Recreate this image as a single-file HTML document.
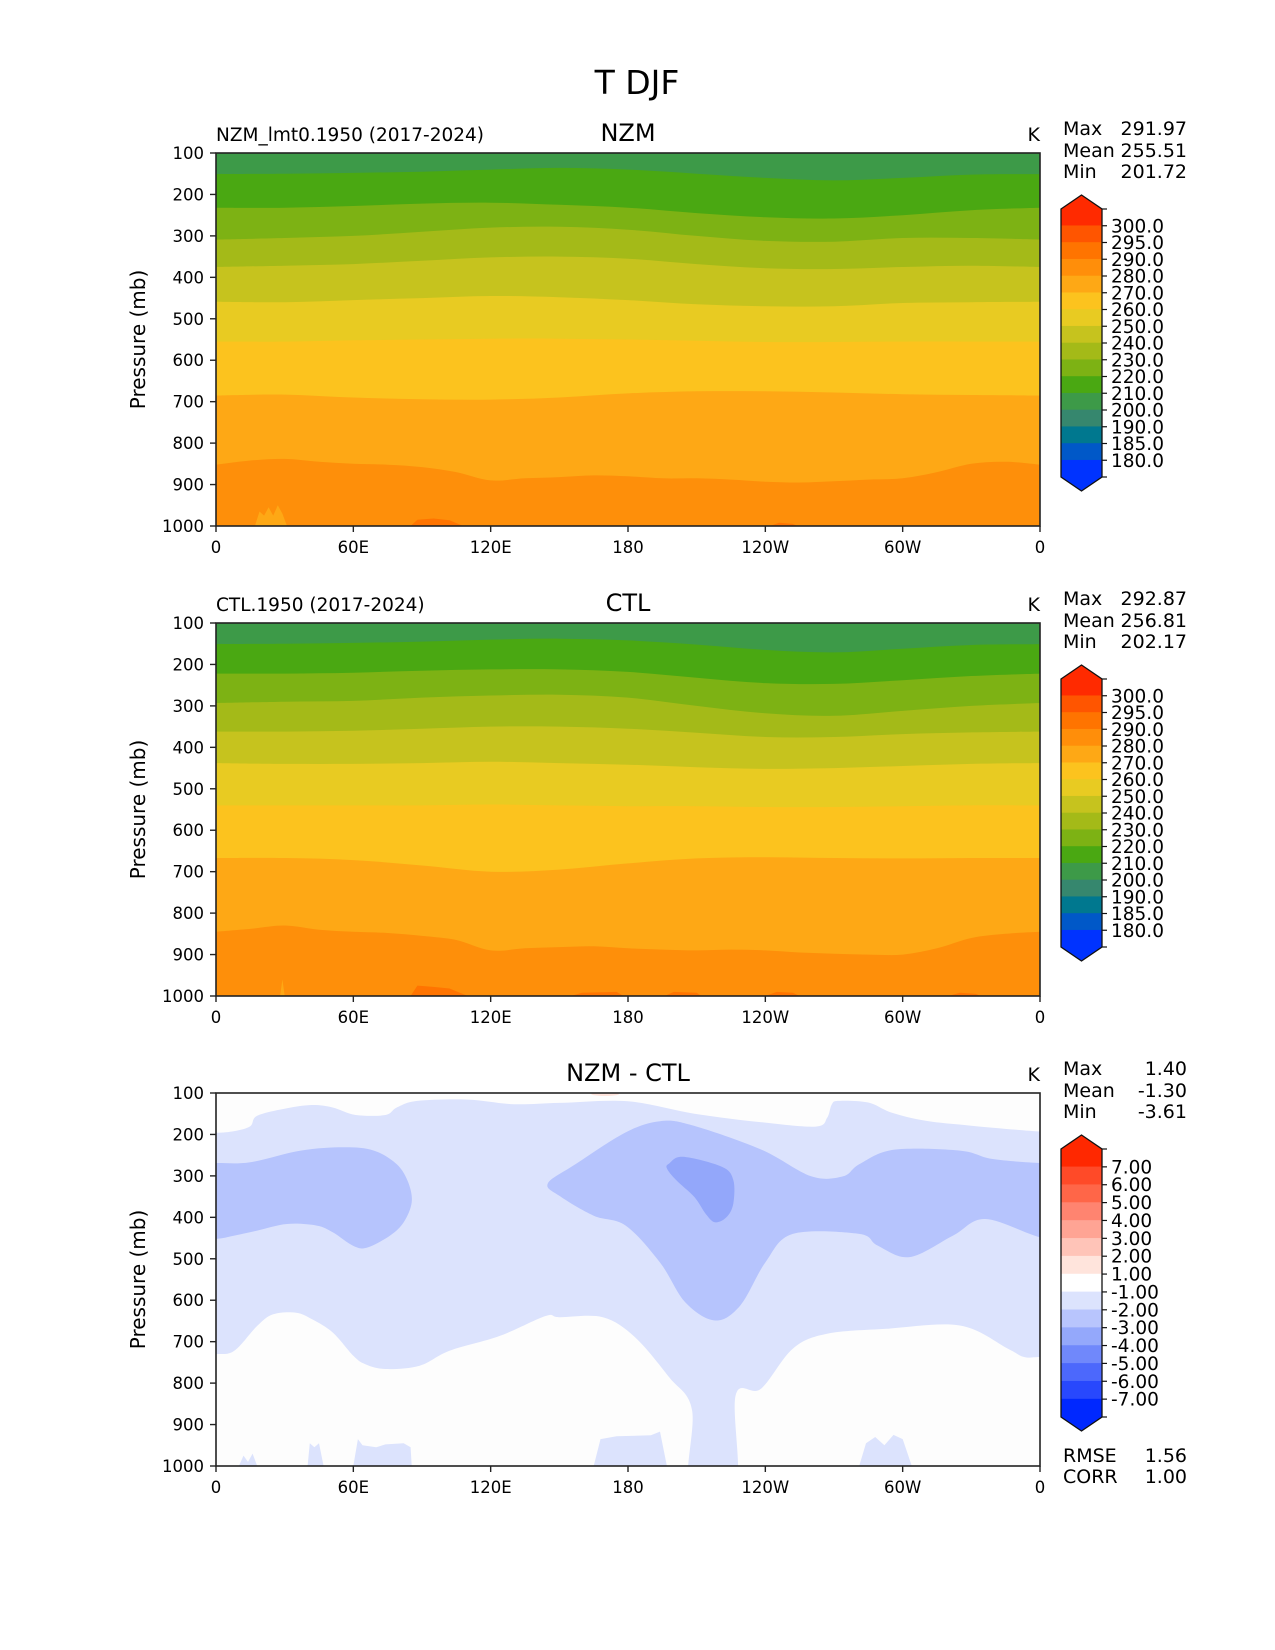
<!DOCTYPE html>
<html><head><meta charset="utf-8">
<style>
html,body{margin:0;padding:0;background:#fff;}
svg{display:block;font-family:"DejaVu Sans","Liberation Sans",sans-serif;}
</style></head>
<body>
<svg id="fig" width="1275" height="1650" viewBox="0 0 1275 1650" xmlns="http://www.w3.org/2000/svg">
<text x="637" y="94" font-size="33" text-anchor="middle">T DJF</text>
</svg>
<script>
// ---------- data ----------
const lonTicks = [0, 60, 120, 180, 240, 300, 360];
const lonTickLabels = ["0", "60E", "120E", "180", "120W", "60W", "0"];
const presTicks = [100, 200, 300, 400, 500, 600, 700, 800, 900, 1000];

const absLevels = ["300.0","295.0","290.0","280.0","270.0","260.0","250.0","240.0","230.0","220.0","210.0","200.0","190.0","185.0","180.0"];
const absColors = ["#ff2a00","#ff5500","#ff7400","#ff8e0a","#fea815","#fcc31e","#e8cb22","#c6c31e","#a4ba18","#7db214","#4aa812","#3d9a48","#36876e","#00788f","#0058c8","#0033ff"];
const diffLevels = ["7.00","6.00","5.00","4.00","3.00","2.00","1.00","-1.00","-2.00","-3.00","-4.00","-5.00","-6.00","-7.00"];
const diffColors = ["#ff2800","#ff4a28","#ff6648","#ff8470","#ffa494","#ffc4b8","#ffe4dc","#ffffff","#dce3fd","#b8c5fd","#94a8fb","#7088fb","#4c68fc","#2848fd","#0028ff"];

// boundary pressures at lon 0,30,...,360
const lon13 = [0,30,60,90,120,150,180,210,240,270,300,330,360];
const nzmB210 = [151,150,148,145,140,136,140,150,160,166,160,152,151];
const nzmB220 = [232,232,228,222,220,225,232,245,255,258,250,238,232];
const nzmB230 = [309,305,300,290,280,278,285,300,312,314,305,305,309];
const nzmB240 = [375,372,368,360,352,350,355,368,378,380,375,372,375];
const nzmB250 = [459,460,455,450,445,448,455,465,470,470,462,460,459];
const nzmB260 = [555,555,552,550,548,548,550,553,556,556,555,555,555];
const nzmB270 = [685,683,690,694,695,690,680,675,675,678,682,684,685];
const lon25 = [0,15,30,45,60,75,90,105,120,135,150,165,180,195,210,225,240,255,270,285,300,315,330,345,360];
const nzmB280 = [852,842,838,845,850,852,858,870,890,885,882,878,880,885,885,888,893,895,892,888,885,870,850,845,852];

const ctlB210 = [151,150,148,145,140,138,142,152,165,171,162,153,151];
const ctlB220 = [222,222,220,215,212,212,218,232,245,247,238,228,222];
const ctlB230 = [293,290,288,280,275,273,280,300,318,324,312,300,293];
const ctlB240 = [362,362,360,355,350,350,355,365,375,375,368,364,362];
const ctlB250 = [438,440,440,438,435,438,442,448,452,450,445,440,438];
const ctlB260 = [540,540,540,540,538,540,542,542,544,544,542,540,540];
const ctlB270 = [667,667,672,685,700,695,680,668,665,667,668,667,667];
const ctlB280 = [845,838,830,840,845,848,855,865,890,885,882,880,885,888,890,888,890,895,898,900,900,885,860,850,845];

// difference field regions [lon, p]
const diffLight = [[-12,196],[0,196],[8,192],[15,180],[18,155],[31,137],[42,129],[51,135],[61,153],[74,153],[79,135],[88,119],[110,116],[130,127],[150,124],[180,120],[209,150],[239,171],[262,181],[267,160],[269,128],[272,119],[285,123],[295,147],[310,167],[330,179],[360,193],[372,193],
 [372,737],[360,737],[353,737],[346,717],[325,661],[293,669],[267,681],[252,717],[238,814],[227,830],[227,1060],[207,1060],[208,866],[198,786],[183,689],[169,641],[150,641],[144,638],[124,686],[102,722],[89,758],[74,766],[65,754],[60,734],[51,678],[42,646],[35,630],[25,634],[18,662],[8,722],[0,730],[-12,730]];
const diffMedLeft = [[-12,269],[0,269],[15,267],[37,239],[56,231],[69,239],[79,272],[84,316],[85.5,364],[82,412],[76,444],[66,473],[60,469],[51,436],[44,420],[31,416],[18,432],[8,444],[0,452],[-12,452]];
const diffMedMain = [[145,318],[157,272],[179,195],[194,168],[208,178],[238,236],[260,301],[274,301],[281,272],[296,237],[325,239],[339,259],[360,269],[372,269],
 [372,448],[360,448],[336,404],[322,444],[303,496],[289,468],[281,440],[252,440],[240,509],[229,613],[218,649],[205,605],[194,509],[179,420],[165,396],[150,348]];
const diffDark = [[198,270],[204,254],[221,278],[226,310],[226,367],[223,400],[218,412],[214,392],[209,351],[201,310],[197,282]];
const diffPatches = [
 [[40,1000],[41,945],[43,955],[45,945],[47,1000]],
 [[60,1000],[62,935],[64,950],[70,955],[74,948],[82,945],[85,955],[85.5,1000]],
 [[165,1000],[168,935],[175,928],[190,926],[194,917],[197,1000]],
 [[281,1000],[284,945],[288,930],[292,950],[296,925],[300,935],[304,1000]],
 [[10,1000],[12,975],[14,990],[16,970],[18,1000]]
];
const nzmHot = [[[85,1000],[88,985],[95,982],[102,986],[108,1000]],[[242,1000],[246,992],[252,995],[254,1000]]];
const nzmYellow = [[[17,1000],[19,965],[21,975],[23,955],[25,975],[27,950],[29,970],[31,1000]]];
const ctlHot = [[[85,1000],[88,975],[95,978],[102,982],[110,1000]],[[155,1000],[160,992],[175,990],[178,1000]],[[196,1000],[200,990],[210,992],[212,1000]],[[240,1000],[245,990],[252,992],[255,1000]],[[320,1000],[325,992],[332,995],[334,1000]]];
const ctlYellow = [[[28,1000],[29,960],[30,1000]]];

const stats = [
 {max:"291.97", mean:"255.51", min:"201.72"},
 {max:"292.87", mean:"256.81", min:"202.17"},
 {max:"1.40", mean:"-1.30", min:"-3.61"}
];
const rmse = "1.56", corr = "1.00";

// ---------- layout ----------
const NS = "http://www.w3.org/2000/svg";
const svg = document.getElementById("fig");
const X0 = 216, X1 = 1040, H = 373;
const tops = [153, 623, 1093];
function xs(lon){ return X0 + lon/360*(X1-X0); }
function ysF(top){ return p => top + (p-100)/900*H; }
function el(tag, attrs, parent){
  const e = document.createElementNS(NS, tag);
  for (const k in attrs) e.setAttribute(k, attrs[k]);
  (parent||svg).appendChild(e);
  return e;
}
function crPath(pts, closed){
  const n = pts.length; let d = "M"+pts[0][0].toFixed(1)+","+pts[0][1].toFixed(1);
  const segs = closed ? n : n-1;
  for (let i=0;i<segs;i++){
    const p0 = pts[(i-1+n)%n], p1 = pts[i], p2 = pts[(i+1)%n], p3 = pts[(i+2)%n];
    const a0 = (!closed && i===0) ? p1 : p0;
    const a3 = (!closed && i+2>=n) ? p2 : p3;
    const c1 = [p1[0]+(p2[0]-a0[0])/6, p1[1]+(p2[1]-a0[1])/6];
    const c2 = [p2[0]-(a3[0]-p1[0])/6, p2[1]-(a3[1]-p1[1])/6];
    d += "C"+c1[0].toFixed(1)+","+c1[1].toFixed(1)+" "+c2[0].toFixed(1)+","+c2[1].toFixed(1)+" "+p2[0].toFixed(1)+","+p2[1].toFixed(1);
  }
  return d + (closed ? "Z" : "");
}
function bandBelow(g, lons, vals, ys, color, name){
  const pts = lons.map((l,i)=>[xs(l), ys(vals[i])]);
  let d = crPath(pts, false);
  d += "L"+xs(360)+","+ys(1000)+"L"+xs(0)+","+ys(1000)+"Z";
  const e = el("path", {d:d, fill:color}, g);
  
  
}
function region(g, pts, ys, color, name){
  const e = el("path", {d: crPath(pts.map(q=>[xs(q[0]), ys(q[1])]), true), fill:color}, g);
  
  
}
function polyRegion(g, pts, ys, color, name){
  const e = el("polygon", {points: pts.map(q=>xs(q[0]).toFixed(1)+","+ys(q[1]).toFixed(1)).join(" "), fill:color}, g);
  
  
}
function axes(top){
  const ys = ysF(top);
  const g = el("g", {});
  
  
  el("rect", {x:X0, y:top, width:X1-X0, height:H, fill:"none", stroke:"#222", "stroke-width":1.6}, g);
  presTicks.forEach(p=>{
    el("line", {x1:X0-6, x2:X0, y1:ys(p), y2:ys(p), stroke:"#222", "stroke-width":1.4}, g);
    const t = el("text", {x:X0-12, y:ys(p)+6, "font-size":16.5, "text-anchor":"end"}, g);
    t.textContent = p;
    
    
  });
  lonTicks.forEach((l,i)=>{
    el("line", {x1:xs(l), x2:xs(l), y1:top+H, y2:top+H+6, stroke:"#222", "stroke-width":1.4}, g);
    const t = el("text", {x:xs(l), y:top+H+27, "font-size":16.5, "text-anchor":"middle"}, g);
    t.textContent = lonTickLabels[i];
    
    
  });
  const yl = el("text", {x:0, y:0, "font-size":20, "text-anchor":"middle", transform:"translate(145,"+(top+H/2)+") rotate(-90)"}, g);
  yl.textContent = "Pressure (mb)";
  
  
}
function texts(top, left, title, st){
  if (left){
    const t = el("text", {x:X0, y:top-12, "font-size":18.5});
    t.textContent = left;
    
    
  }
  const t2 = el("text", {x:(X0+X1)/2, y:top-12, "font-size":24, "text-anchor":"middle"});
  t2.textContent = title;
  
  
  const k = el("text", {x:X1, y:top-12, "font-size":19, "text-anchor":"end"});
  k.textContent = "K";
  
  
  [["Max",st.max,-18],["Mean",st.mean,4],["Min",st.min,25]].forEach(r=>{
    const a = el("text", {x:1063, y:top+r[2], "font-size":19});
    a.textContent = r[0];
    
    
    const b = el("text", {x:1187, y:top+r[2], "font-size":19, "text-anchor":"end"});
    b.textContent = r[1];
    
    
  });
}
function colorbar(top, levels, colors){
  const g = el("g", {});
  
  
  const cx0 = 1061, cx1 = 1102, ry0 = top+56, ry1 = top+324, n = colors.length;
  const bh = (ry1-ry0)/n;
  colors.forEach((c,i)=>{
    const r = el("rect", {x:cx0, y:ry0+i*bh-0.3, width:cx1-cx0, height:bh+0.6, fill:c}, g);
    
    
  });
  const mx = (cx0+cx1)/2;
  el("polygon", {points:cx0+","+ry0+" "+mx+","+(ry0-14)+" "+cx1+","+ry0, fill:colors[0]}, g);
  el("polygon", {points:cx0+","+ry1+" "+mx+","+(ry1+14)+" "+cx1+","+ry1, fill:colors[n-1]}, g);
  el("path", {d:"M"+cx0+","+ry0+"L"+mx+","+(ry0-14)+"L"+cx1+","+ry0+"L"+cx1+","+ry1+"L"+mx+","+(ry1+14)+"L"+cx0+","+ry1+"Z", fill:"none", stroke:"#111", "stroke-width":1.3}, g);
  el("line", {x1:cx1, x2:cx1+5, y1:ry0, y2:ry0, stroke:"#111", "stroke-width":1.2}, g);
  el("line", {x1:cx1, x2:cx1+5, y1:ry1, y2:ry1, stroke:"#111", "stroke-width":1.2}, g);
  levels.forEach((lab,i)=>{
    const y = ry0 + (i+1)*bh;
    el("line", {x1:cx1, x2:cx1+5, y1:y, y2:y, stroke:"#111", "stroke-width":1.2}, g);
    const t = el("text", {x:1111, y:y+6.5, "font-size":18.5}, g);
    t.textContent = lab;
    
    
  });
}
function absPanel(top, B, hot, yellow, name){
  const ys = ysF(top);
  const g = el("g", {});
  
  
  const cp = el("clipPath", {id:"c"+top}, g);
  el("rect", {x:X0, y:top, width:X1-X0, height:H}, cp);
  const gg = el("g", {"clip-path":"url(#c"+top+")"}, g);
  const bg = el("rect", {x:X0, y:top, width:X1-X0, height:H, fill:"#3d9a48"}, gg);
  
  
  const cols = ["#4aa812","#7db214","#a4ba18","#c6c31e","#e8cb22","#fcc31e","#fea815"];
  for (let i=0;i<7;i++) bandBelow(gg, lon13, B[i], ys, cols[i], "band-"+(210+i*10));
  bandBelow(gg, lon25, B[7], ys, "#fe8f0a", "band-280-290");
  yellow.forEach(p=>polyRegion(gg, p, ys, "#fea815", "warm-patch"));
  hot.forEach(p=>polyRegion(gg, p, ys, "#ff7400", "hot-patch"));
}
absPanel(tops[0], [nzmB210,nzmB220,nzmB230,nzmB240,nzmB250,nzmB260,nzmB270,nzmB280], nzmHot, nzmYellow, "nzm-contour");
axes(tops[0]); texts(tops[0], "NZM_lmt0.1950 (2017-2024)", "NZM", stats[0]); colorbar(tops[0], absLevels, absColors);
absPanel(tops[1], [ctlB210,ctlB220,ctlB230,ctlB240,ctlB250,ctlB260,ctlB270,ctlB280], ctlHot, ctlYellow, "ctl-contour");
axes(tops[1]); texts(tops[1], "CTL.1950 (2017-2024)", "CTL", stats[1]); colorbar(tops[1], absLevels, absColors);
(function(){
  const top = tops[2], ys = ysF(top);
  const g = el("g", {});
  
  
  const cp = el("clipPath", {id:"cd"}, g);
  el("rect", {x:X0, y:top, width:X1-X0, height:H}, cp);
  const gg = el("g", {"clip-path":"url(#cd)"}, g);
  el("rect", {x:X0, y:top, width:X1-X0, height:H, fill:"#fdfdfd"}, gg);
  region(gg, diffLight, ys, "#dce3fd", "diff-band-minus1");
  diffPatches.forEach(p=>polyRegion(gg, p, ys, "#dce3fd", "diff-surface-patch"));
  region(gg, diffMedLeft, ys, "#b6c4fd", "diff-band-minus2-west");
  region(gg, diffMedMain, ys, "#b6c4fd", "diff-band-minus2-east");
  region(gg, diffDark, ys, "#93a7fa", "diff-band-minus3");
  const red = el("ellipse", {cx:xs(170), cy:top+1, rx:14, ry:2, fill:"#ffe4dc"}, gg);
  
  
})();
axes(tops[2]); texts(tops[2], null, "NZM - CTL", stats[2]); colorbar(tops[2], diffLevels, diffColors);
[["RMSE",rmse,1462],["CORR",corr,1483]].forEach(r=>{
  const a = el("text", {x:1063, y:r[2], "font-size":19});
  a.textContent = r[0];
  
  
  const b = el("text", {x:1187, y:r[2], "font-size":19, "text-anchor":"end"});
  b.textContent = r[1];
  
  
});
</script>
</body></html>
